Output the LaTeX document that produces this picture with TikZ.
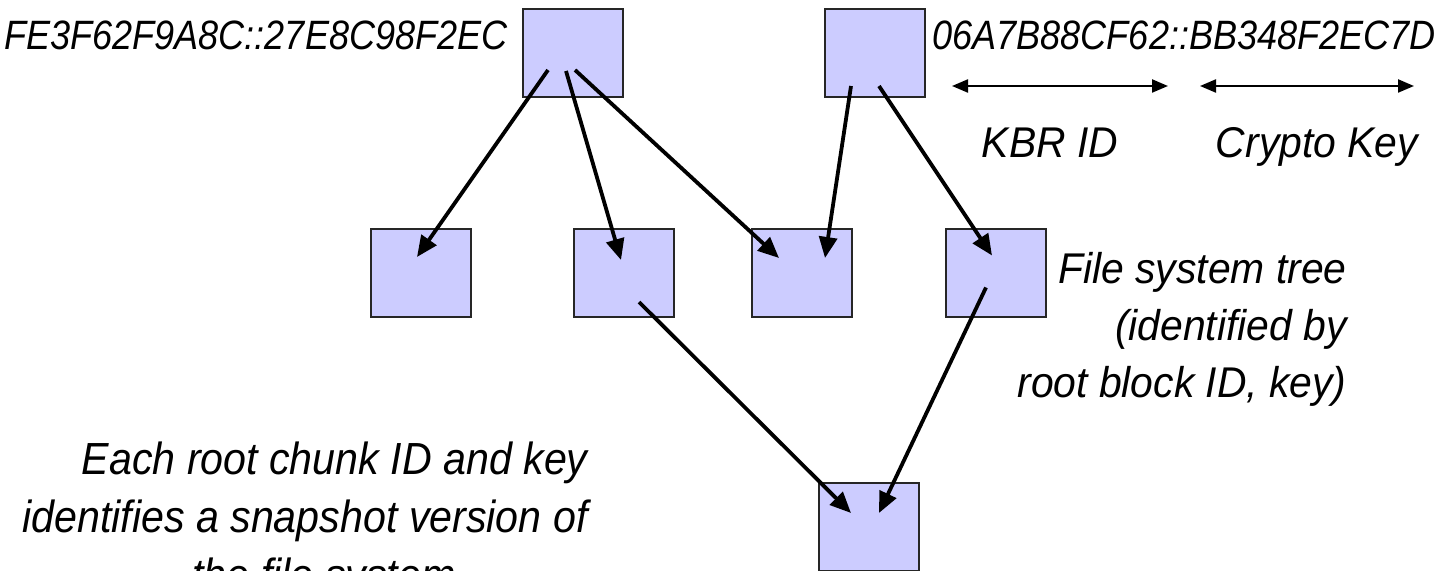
\documentclass[tikz,border=0pt]{standalone}
\usepackage{fontspec}
\setmainfont{Liberation Sans}
\newfontfamily\hexfont{Liberation Sans}[FakeStretch=0.88]
\newfontfamily\capfont{Liberation Sans}[FakeStretch=0.95]
\newfontfamily\snapfont{Liberation Sans}[FakeStretch=0.915]
\usepackage{tikz}
\usetikzlibrary{
  arrows.meta,
  calc
}
\definecolor{blocklav}{HTML}{CCCCFF}

\begin{document}
\begin{tikzpicture}[x=0.5pt, y=-0.5pt,
    blk/.style={draw=black!85, line width=1pt, fill=blocklav,
                minimum width=50pt, minimum height=44pt, inner sep=0pt},
    link/.style={-{Triangle[length=10.5pt,width=9pt]}, line width=1.9pt},
    span/.style={{Triangle[length=8pt,width=6.5pt]}-{Triangle[length=8pt,width=6.5pt]},
                 line width=1.1pt},
    hex/.style={font=\hexfont\itshape\fontsize{20.5pt}{24pt}\selectfont, inner sep=0pt},
    tag/.style={font=\capfont\itshape\fontsize{21.5pt}{24pt}\selectfont, inner sep=0pt},
    note/.style={font=\capfont\itshape\fontsize{21.5pt}{28.5pt}\selectfont,
                 align=right, inner sep=0pt}
  ]
    \clip (0,0) rectangle (1434,571);
    \node[blk] (rA) at (572.5,53) {};
    \node[blk] (rB) at (875,53) {};
    \node[blk] (b1) at (421,273) {};
    \node[blk] (b2) at (624,273) {};
    \node[blk] (b3) at (802,273) {};
    \node[blk] (b4) at (995.5,273) {};
    \node[blk] (b5) at (869,527) {};
    \node[hex, anchor=base east] (idA) at (508,50) {FE3F62F9A8C::27E8C98F2EC};
    \node[hex, anchor=base west] (idB) at (932,50) {06A7B88CF62::BB348F2EC7D};
    \coordinate (kbrL) at (952,86); \coordinate (kbrR) at (1168,86);
    \coordinate (keyL) at (1200,86); \coordinate (keyR) at (1414,86);
    \draw[span] (kbrL)--(kbrR); \draw[span] (keyL)--(keyR);
    \node[tag, anchor=base] (kbr) at (1050,158) {KBR ID};
    \node[tag, anchor=base] (key) at (1317,158) {Crypto Key};
    \draw[link] ($(rA)+(-24.5,17)$)--($(b1)+(-4,-16)$);
    \draw[link] ($(rA)+(-6.5,18)$)--($(b2)+(-3,-13)$);
    \draw[link] ($(rA)+(2.5,17)$)--($(b3)+(-23,-15)$);
    \draw[link] ($(rB)+(-24,33)$)--($(b3)+(23,-15)$);
    \draw[link] ($(rB)+(4,33)$)--($(b4)+(-3.5,-17.5)$);
    \draw[link] ($(b2)+(15,29)$)--($(b5)+(-18,-14)$);
    \draw[link] ($(b4)+(-9.5,14.5)$)--($(b5)+(10,-14)$);
    \node[note, anchor=north east] (tree) at (1347,252)
      {File system tree\\ (identified by\hspace*{8pt}\\ root block ID, key)};
    \node[note, anchor=north east,
          font=\snapfont\itshape\fontsize{22.5pt}{29pt}\selectfont] (snap) at (588,441)
      {Each root chunk ID and key\\ identifies a snapshot version of\\
       the file system\hspace*{66pt}};
  \end{tikzpicture}
\end{document}
